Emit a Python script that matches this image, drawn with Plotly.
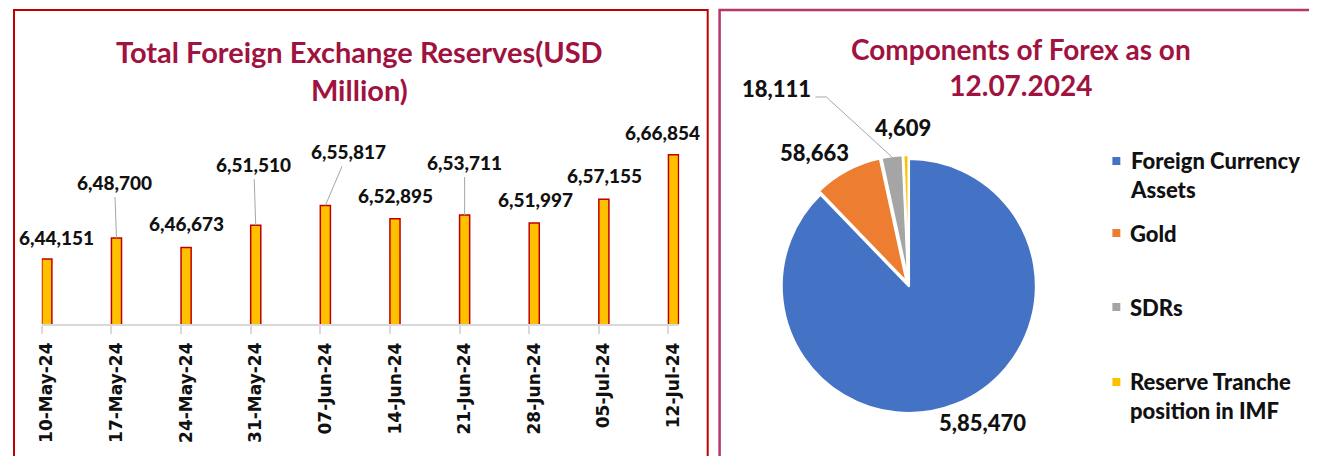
import plotly.graph_objects as go

# ---------------- data ----------------
weeks = ["10-May-24", "17-May-24", "24-May-24", "31-May-24", "07-Jun-24",
         "14-Jun-24", "21-Jun-24", "28-Jun-24", "05-Jul-24", "12-Jul-24"]
total_reserves = [644151, 648700, 646673, 651510, 655817,
                  652895, 653711, 651997, 657155, 666854]

components = ["Foreign Currency<br>Assets", "Gold", "SDRs",
              "Reserve Tranche<br>position in IMF"]
component_values = [585470, 58663, 18111, 4609]

bar_title = "Total Foreign Exchange Reserves(USD<br>Million)"
pie_title = "Components of Forex as on<br>12.07.2024"

# ---------------- style ----------------
OFF = 8                      # page body margin
W, H = 1317 - OFF, 456 - OFF
TITLE_COLOR = "#A0123F"
FONT = "Lato"
BAR_W = 0.145
pie_colors = ["#4472C4", "#ED7D31", "#A5A5A5", "#FFC000"]


def indian(n):
    s = str(n)
    if len(s) <= 3:
        return s
    last3, rest = s[-3:], s[:-3]
    groups = []
    while len(rest) > 2:
        groups.insert(0, rest[-2:])
        rest = rest[:-2]
    if rest:
        groups.insert(0, rest)
    return ",".join(groups) + "," + last3


def px(x):
    return (x - OFF) / W


def py(y):
    return 1 - (y - OFF) / H


xs = list(range(len(weeks)))
centers = [i + BAR_W / 2 for i in xs]

fig = go.Figure()
fig.add_trace(go.Bar(
    x=xs, y=total_reserves, width=BAR_W, offset=0,
    marker=dict(color="#FFC000", line=dict(color="#C00000", width=1.5)),
    showlegend=False, hoverinfo="y",
))

PCX, PCY, PR = 910, 286, 132
fig.add_trace(go.Pie(
    labels=components, values=component_values, sort=False,
    direction="clockwise", rotation=0,
    marker=dict(colors=pie_colors, line=dict(color="white", width=2.5)),
    pull=[0, 0.03, 0.03, 0.03],
    textinfo="none", showlegend=False,
    domain=dict(x=[px(PCX - PR), px(PCX + PR)], y=[py(PCY + PR), py(PCY - PR)]),
))

# data labels for bars: (dx, dy, leader)
label_offsets = [(10, -22, False), (-2, -56, True), (0, -24, False), (-2, -61, True),
                 (23, -54, True), (1, -23, False), (0, -53, True), (1, -23, False),
                 (1, -24, False), (-11, -22, False)]
LABEL_FONT = dict(family=FONT, size=19, color="#111111", weight=900)
annotations = []
for c, v, (dx, dy, leader) in zip(centers, total_reserves, label_offsets):
    txt = indian(v)
    if leader:
        annotations.append(dict(
            x=c, y=v, xref="x", yref="y", text=txt, showarrow=True,
            ax=dx, ay=dy, arrowhead=0, arrowwidth=1, arrowcolor="#A6A6A6",
            standoff=0, startstandoff=2, font=LABEL_FONT))
    else:
        annotations.append(dict(
            x=c, y=v, xref="x", yref="y", text=txt, showarrow=False,
            xshift=dx, yshift=-dy, yanchor="middle", font=LABEL_FONT))

# titles
annotations.append(dict(x=px(357), y=py(70), xref="paper", yref="paper", text=bar_title,
                        showarrow=False, xanchor="center", yanchor="middle",
                        font=dict(family=FONT, size=29, color=TITLE_COLOR, weight="bold")))
annotations.append(dict(x=px(1023), y=py(67), xref="paper", yref="paper", text=pie_title,
                        showarrow=False, xanchor="center", yanchor="middle",
                        font=dict(family=FONT, size=28, color=TITLE_COLOR, weight="bold")))

# pie value labels (offsets from pie center)
pie_label_offsets = [(74, 136), (-95, -134), (-133, -198), (-6, -159)]
PIE_LABEL_FONT = dict(family=FONT, size=22, color="#111111", weight=900)
for v, (dx, dy) in zip(component_values, pie_label_offsets):
    annotations.append(dict(x=px(PCX + dx), y=py(PCY + dy), xref="paper", yref="paper",
                            text=indian(v), showarrow=False, xanchor="center", yanchor="middle",
                            font=PIE_LABEL_FONT))

# legend (manual)
legend_y = [161, 233, 307, 382]
LINE_H = 28
shapes = []
for name, col, yy in zip(components, pie_colors, legend_y):
    nlines = name.count("<br>") + 1
    annotations.append(dict(x=px(1131), y=py(yy + (nlines - 1) * LINE_H / 2),
                            xref="paper", yref="paper", text=name, showarrow=False,
                            xanchor="left", yanchor="middle", align="left",
                            font=dict(family=FONT, size=22, color="#111111", weight=900)))
    shapes.append(dict(type="rect", xref="paper", yref="paper",
                       x0=px(1115), x1=px(1123), y0=py(yy + 4), y1=py(yy - 4),
                       fillcolor=col, line=dict(width=0)))

# leader line for SDR label
shapes.append(dict(type="path", xref="paper", yref="paper",
                   path=f"M {px(816)} {py(97)} L {px(827)} {py(97)} L {px(893)} {py(157)}",
                   line=dict(color="#A6A6A6", width=1)))

# panel borders
shapes.append(dict(type="rect", xref="paper", yref="paper",
                   x0=px(9), x1=px(707.5), y0=py(480), y1=py(10),
                   line=dict(color="#C00000", width=2), fillcolor="rgba(0,0,0,0)", layer="below"))
shapes.append(dict(type="rect", xref="paper", yref="paper",
                   x0=px(719.5), x1=px(1340), y0=py(480), y1=py(10),
                   line=dict(color="#B5376A", width=2.5), fillcolor="rgba(0,0,0,0)", layer="below"))

fig.update_layout(
    width=W, height=H, margin=dict(l=0, r=0, t=0, b=0),
    paper_bgcolor="white", plot_bgcolor="white",
    xaxis=dict(domain=[px(37), px(679)], range=[0, 9 + 0.157], tickmode="array",
               tickvals=centers, ticktext=weeks, tickangle=-90, ticks="",
               showline=True, linecolor="#D9D9D9", linewidth=1.5, showgrid=False,
               zeroline=False, ticklabelstandoff=10,
               tickfont=dict(family="DejaVu Sans", size=17, color="#111111", weight="bold"),
               minor=dict(tickmode="array", tickvals=xs, ticks="outside", ticklen=8,
                          tickcolor="#D9D9D9", tickwidth=1.5, showgrid=False),
               fixedrange=True),
    yaxis=dict(domain=[py(324), py(140.3)], range=[630000, 670000], visible=False,
               fixedrange=True),
    annotations=annotations, shapes=shapes,
)

fig.write_html("out.html")
